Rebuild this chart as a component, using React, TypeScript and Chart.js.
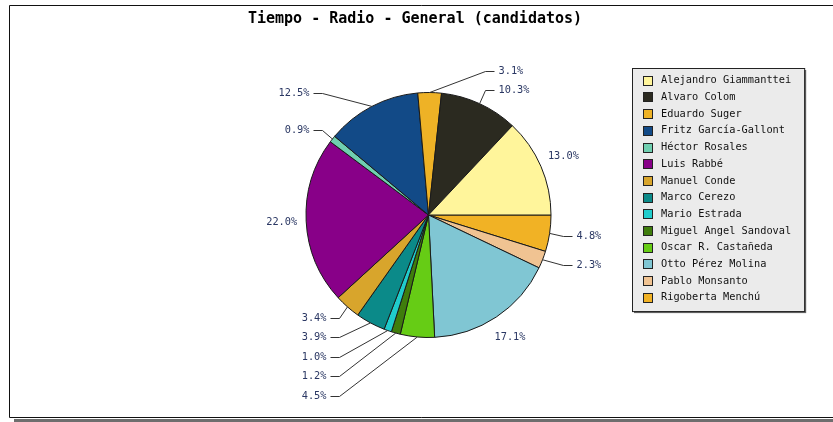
import React, { useEffect, useRef } from 'react';
import { Chart, registerables } from 'chart.js';

Chart.register(...registerables);

const TITLE = 'Tiempo - Radio - General (candidatos)';
const candidates = [
  'Alejandro Giammanttei',
  'Alvaro Colom',
  'Eduardo Suger',
  'Fritz García-Gallont',
  'Héctor Rosales',
  'Luis Rabbé',
  'Manuel Conde',
  'Marco Cerezo',
  'Mario Estrada',
  'Miguel Angel Sandoval',
  'Oscar R. Castañeda',
  'Otto Pérez Molina',
  'Pablo Monsanto',
  'Rigoberta Menchú',
];
const shares = [13.0, 10.3, 3.1, 12.5, 0.9, 22.0, 3.4, 3.9, 1.0, 1.2, 4.5, 17.1, 2.3, 4.8];
const sliceColors = [
  '#fff59b',
  '#2b2a20',
  '#eeb226',
  '#124a87',
  '#6fcfb0',
  '#880088',
  '#d8a52c',
  '#0b8a89',
  '#20cccc',
  '#3f7d0c',
  '#66cc15',
  '#80c6d3',
  '#f0c392',
  '#f1b225',
];

const W = 833;
const H = 422;
const MONO = '"DejaVu Sans Mono", "Liberation Mono", monospace';

// data reversed so that Chart.js (clockwise) reproduces the counter-clockwise original
const order = shares.map((_, i) => shares.length - 1 - i);

const decorPlugin = {
  id: 'decor',
  beforeDraw(chart: any) {
    const ctx = chart.ctx;
    ctx.save();
    ctx.fillStyle = '#ffffff';
    ctx.fillRect(0, 0, W, H);
    // frame shadow
    ctx.fillStyle = '#6e6e6e';
    ctx.fillRect(14, 419, W - 14, 3);
    // frame
    ctx.strokeStyle = '#111111';
    ctx.lineWidth = 1;
    ctx.beginPath();
    ctx.moveTo(W + 1, 5.5);
    ctx.lineTo(9.5, 5.5);
    ctx.lineTo(9.5, 417.5);
    ctx.lineTo(W + 1, 417.5);
    ctx.stroke();
    // title
    ctx.fillStyle = '#000000';
    ctx.font = `bold 15px ${MONO}`;
    ctx.textAlign = 'center';
    ctx.textBaseline = 'middle';
    ctx.fillText(TITLE, 415, 19);
    ctx.restore();
  },
  afterDatasetsDraw(chart: any) {
    const ctx = chart.ctx;
    const meta = chart.getDatasetMeta(0);
    ctx.save();
    ctx.font = `10.3px ${MONO}`;
    ctx.textBaseline = 'middle';

    type Lab = { idx: number; a: number; ex: number; ey: number; px: number; py: number; right: boolean; top: boolean; y: number };
    const leaders: Lab[] = [];
    let cy = 0;
    meta.data.forEach((arc: any, k: number) => {
      const idx = order[k];
      const p = arc.getProps(['x', 'y', 'startAngle', 'endAngle', 'outerRadius'], true);
      cy = p.y;
      const a = (p.startAngle + p.endAngle) / 2;
      const r = p.outerRadius;
      const txt = shares[idx].toFixed(1) + '%';
      if (shares[idx] >= 13) {
        ctx.fillStyle = '#2a3763';
        ctx.textAlign = 'center';
        ctx.fillText(txt, p.x + Math.cos(a) * r * 1.2, p.y + Math.sin(a) * r * 1.2);
      } else {
        const ex = p.x + Math.cos(a) * r;
        const ey = p.y + Math.sin(a) * r;
        const px = p.x + Math.cos(a) * r * 1.11;
        const py = p.y + Math.sin(a) * r * 1.12;
        leaders.push({ idx, a, ex, ey, px, py, right: Math.cos(a) >= 0, top: Math.sin(a) < 0, y: py });
      }
    });

    const groups: Record<string, Lab[]> = {};
    leaders.forEach((l) => {
      const key = (l.right ? 'R' : 'L') + (l.top ? 'T' : 'B');
      (groups[key] = groups[key] || []).push(l);
    });
    const gap = 19.4;
    Object.keys(groups).forEach((key) => {
      const g = groups[key];
      const right = key[0] === 'R';
      g.sort((u, v) => Math.abs(u.py - cy) - Math.abs(v.py - cy));
      let prev = -Infinity;
      g.forEach((l) => {
        let d = Math.abs(l.py - cy);
        if (d < prev + gap) d = prev + gap;
        prev = d;
        l.y = l.top ? cy - d : cy + d;
      });
      const colX = right ? Math.max(...g.map((l) => l.px)) : Math.min(...g.map((l) => l.px));
      g.forEach((l) => {
        const ly = Math.round(l.y) + 0.5;
        const cxr = Math.round(colX) + 0.5;
        const endX = right ? cxr + 9 : cxr - 9;
        ctx.strokeStyle = '#333333';
        ctx.lineWidth = 1;
        ctx.beginPath();
        ctx.moveTo(l.ex, l.ey);
        ctx.lineTo(cxr, ly);
        ctx.lineTo(endX, ly);
        ctx.stroke();
        ctx.fillStyle = '#2a3763';
        ctx.textAlign = right ? 'left' : 'right';
        ctx.fillText(shares[l.idx].toFixed(1) + '%', right ? endX + 4 : endX - 4, ly);
      });
    });

    // legend
    ctx.font = `10.3px ${MONO}`;
    const maxW = Math.max(...candidates.map((c) => ctx.measureText(c).width));
    const bx = 632;
    const by = 68;
    const rowH = 16.7;
    const textX = bx + 29;
    const bw = textX - bx + maxW + 13;
    const bh = 14 + (candidates.length - 1) * rowH + 12;
    ctx.fillStyle = '#666666';
    ctx.fillRect(bx + 2, by + 2, bw, bh);
    ctx.fillStyle = '#ebebeb';
    ctx.fillRect(bx, by, bw, bh);
    ctx.strokeStyle = '#222222';
    ctx.strokeRect(bx + 0.5, by + 0.5, bw, bh);
    candidates.forEach((c, i) => {
      const ry = by + 12.7 + i * rowH;
      ctx.fillStyle = sliceColors[i];
      ctx.fillRect(bx + 11, Math.round(ry - 5), 10, 10);
      ctx.strokeStyle = '#222222';
      ctx.strokeRect(bx + 11.5, Math.round(ry - 5) + 0.5, 9, 9);
      ctx.fillStyle = '#111111';
      ctx.textAlign = 'left';
      ctx.fillText(c, textX, ry);
    });
    ctx.restore();
  },
};

export default function App() {
  const ref = useRef<HTMLCanvasElement | null>(null);
  useEffect(() => {
    if (!ref.current) return;
    const chart = new Chart(ref.current, {
      type: 'pie',
      data: {
        labels: order.map((i) => candidates[i]),
        datasets: [
          {
            data: order.map((i) => shares[i]),
            backgroundColor: order.map((i) => sliceColors[i]),
            borderColor: '#1a1a1a',
            borderWidth: 1,
          },
        ],
      },
      options: {
        responsive: false,
        animation: false,
        devicePixelRatio: 1,
        rotation: 90,
        layout: { padding: { left: 305, right: 281, top: 92, bottom: 84 } },
        plugins: {
          legend: { display: false },
          title: { display: false },
          tooltip: { enabled: false },
        },
      },
      plugins: [decorPlugin],
    });
    return () => chart.destroy();
  }, []);
  return (
    <div style={{ position: 'fixed', left: 0, top: 0, width: W, height: H, background: '#fff' }}>
      <canvas ref={ref} width={W} height={H} style={{ display: 'block', width: W, height: H }} />
    </div>
  );
}
